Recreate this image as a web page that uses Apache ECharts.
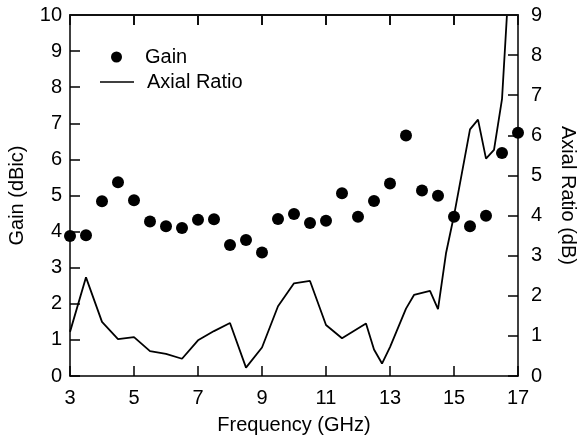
<!DOCTYPE html>
<html>
<head>
<meta charset="utf-8">
<script src="https://cdn.jsdelivr.net/npm/echarts@6/dist/echarts.min.js"></script>
<style>
  html, body { margin: 0; padding: 0; background: #fff; }
  #chart { width: 579px; height: 439px; }
</style>
</head>
<body>
<div id="chart"></div>
<script>
const gainFreq = [3, 3.5, 4, 4.5, 5, 5.5, 6, 6.5, 7, 7.5, 8, 8.5, 9, 9.5, 10, 10.5, 11, 11.5, 12, 12.5, 13, 13.5, 14, 14.5, 15, 15.5, 16, 16.5, 17];
const gainVals = [3.88, 3.90, 4.84, 5.37, 4.87, 4.28, 4.15, 4.10, 4.33, 4.34, 3.63, 3.77, 3.42, 4.35, 4.49, 4.24, 4.30, 5.06, 4.41, 4.85, 5.33, 6.66, 5.14, 4.99, 4.41, 4.15, 4.44, 6.18, 6.74];

const arFreq = [3, 3.5, 4, 4.5, 5, 5.5, 6, 6.5, 7, 7.5, 8, 8.5, 9, 9.5, 10, 10.5, 11, 11.5, 12.25, 12.5, 12.75, 13, 13.5, 13.75, 14.25, 14.5, 14.75, 15, 15.5, 15.75, 16, 16.25, 16.5, 16.75];
const arVals = [1.10, 2.46, 1.35, 0.92, 0.97, 0.62, 0.55, 0.43, 0.89, 1.12, 1.32, 0.21, 0.71, 1.74, 2.31, 2.37, 1.27, 0.94, 1.31, 0.66, 0.31, 0.72, 1.68, 2.02, 2.12, 1.67, 3.06, 4.00, 6.15, 6.39, 5.42, 5.64, 6.90, 10.3];

const xTitle = 'Frequency (GHz)';
const yLeftTitle = 'Gain (dBic)';
const yRightTitle = 'Axial Ratio (dB)';
const seriesNames = ['Gain', 'Axial Ratio'];

const FONT = 'Liberation Sans, Arial, sans-serif';
const FS = 20;
const chart = echarts.init(document.getElementById('chart'), null, {renderer: 'canvas'});

chart.setOption({
  animation: false,
  backgroundColor: '#fff',
  grid: {left: 70, right: 61, top: 15, bottom: 63, containLabel: false, outerBoundsMode: 'none'},
  legend: [
    {
      data: [{name: seriesNames[0], icon: 'circle'}],
      left: 106, top: 42,
      itemWidth: 11, itemHeight: 11,
      textStyle: {fontFamily: FONT, fontSize: FS, color: '#000', padding: [0, 0, 0, 18]}
    },
    {
      data: [{name: seriesNames[1], icon: 'rect'}],
      left: 95, top: 67,
      itemWidth: 34, itemHeight: 1.6,
      textStyle: {fontFamily: FONT, fontSize: FS, color: '#000', padding: [0, 0, 0, 8]}
    }
  ],
  xAxis: [
    {
      type: 'value', min: 3, max: 17, interval: 2,
      position: 'bottom',
      name: xTitle, nameLocation: 'middle', nameGap: 39,
      nameTextStyle: {fontFamily: FONT, fontSize: FS, color: '#000'},
      axisLine: {show: true, onZero: false, lineStyle: {color: '#000', width: 1.5}},
      axisTick: {show: true, inside: true, length: 10, lineStyle: {color: '#000', width: 1.5}},
      axisLabel: {fontFamily: FONT, fontSize: FS, color: '#000', margin: 12},
      splitLine: {show: false}
    },
    {
      type: 'value', min: 3, max: 17, interval: 2,
      position: 'top',
      axisLine: {show: true, onZero: false, lineStyle: {color: '#111', width: 2}},
      axisTick: {show: true, inside: true, length: 10, lineStyle: {color: '#111', width: 2}},
      axisLabel: {show: true, color: 'rgba(255,255,255,0)'},
      splitLine: {show: false}
    }
  ],
  yAxis: [
    {
      type: 'value', min: 0, max: 10, interval: 1,
      position: 'left',
      name: yLeftTitle, nameLocation: 'middle', nameGap: 43,
      nameTextStyle: {fontFamily: FONT, fontSize: FS, color: '#000'},
      axisLine: {show: true, onZero: false, lineStyle: {color: '#000', width: 1.5}},
      axisTick: {show: true, inside: true, length: 10, lineStyle: {color: '#000', width: 1.5}},
      axisLabel: {fontFamily: FONT, fontSize: FS, color: '#000', margin: 8},
      splitLine: {show: false}
    },
    {
      type: 'value', min: 0, max: 9, interval: 1,
      position: 'right',
      name: yRightTitle, nameLocation: 'middle', nameGap: 40, nameRotate: -90,
      nameTextStyle: {fontFamily: FONT, fontSize: FS, color: '#000'},
      axisLine: {show: true, onZero: false, lineStyle: {color: '#000', width: 1.5}},
      axisTick: {show: true, inside: true, length: 10, lineStyle: {color: '#000', width: 1.5}},
      axisLabel: {fontFamily: FONT, fontSize: FS, color: '#000', margin: 13},
      splitLine: {show: false}
    }
  ],
  series: [
    {
      name: seriesNames[0],
      type: 'scatter',
      xAxisIndex: 1, yAxisIndex: 0,
      symbol: 'circle', symbolSize: 12,
      itemStyle: {color: '#000', opacity: 1},
      clip: false,
      z: 5,
      data: gainFreq.map((f, i) => [f, gainVals[i]]),
      markLine: {silent: true, symbol: 'none', label: {show: false},
        lineStyle: {color: '#111', width: 2, type: 'solid', opacity: 1},
        data: [{yAxis: 10}]}
    },
    {
      name: seriesNames[1],
      type: 'line',
      xAxisIndex: 0, yAxisIndex: 1,
      symbol: 'none',
      lineStyle: {color: '#000', width: 1.8},
      itemStyle: {color: '#000'},
      clip: true,
      data: arFreq.map((f, i) => [f, arVals[i]])
    }
  ]
});
</script>
</body>
</html>
